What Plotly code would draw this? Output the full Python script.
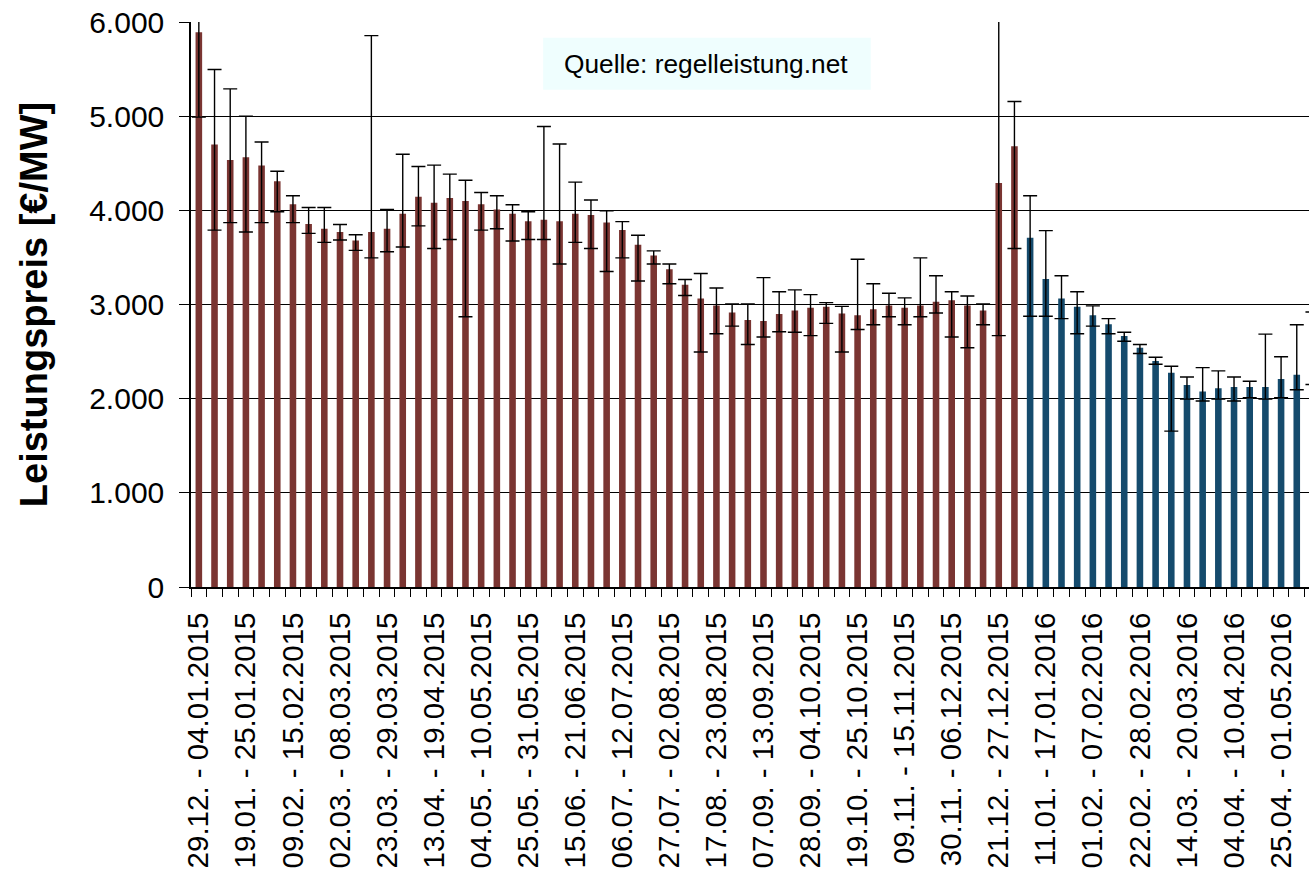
import plotly.graph_objects as go

# weekly capacity prices 2015 (red) and 2016 (blue), with min / max of the week
price_2015 = [5890, 4700, 4535, 4565, 4475, 4310, 4065, 3855, 3805, 3770,
              3680, 3770, 3805, 3965, 4145, 4080, 4130, 4100, 4065, 4010,
              3965, 3885, 3900, 3885, 3965, 3950, 3870, 3790, 3635, 3520,
              3375, 3210, 3065, 2990, 2915, 2835, 2825, 2900, 2935, 2965,
              2975, 2905, 2885, 2950, 2990, 2965, 2990, 3030, 3045, 2990,
              2935, 4290, 4680]
low_2015 = [4990, 3790, 3870, 3770, 3870, 3985, 3870, 3755, 3660, 3685,
            3575, 3495, 3560, 3610, 3835, 3595, 3690, 2870, 3790, 3805,
            3675, 3690, 3690, 3430, 3660, 3595, 3350, 3495, 3250, 3430,
            3220, 3095, 2495, 2690, 2770, 2575, 2655, 2710, 2705, 2670,
            2800, 2495, 2735, 2785, 2870, 2785, 2870, 2910, 2655, 2540,
            2785, 2670, 3595]
high_2015 = [6300, 5495, 5290, 5000, 4725, 4415, 4155, 4030, 4030, 3850,
             3740, 5855, 4010, 4595, 4465, 4480, 4385, 4320, 4190, 4155,
             4060, 3985, 4890, 4705, 4300, 4110, 3995, 3880, 3735, 3570,
             3430, 3265, 3330, 3175, 3005, 3005, 3285, 3135, 3155, 3105,
             3020, 2980, 3480, 3220, 3120, 3070, 3495, 3305, 3135, 3090,
             3005, 6500, 5155]

price_2016 = [3710, 3270, 3065, 2975, 2885, 2790, 2665, 2540, 2400, 2275,
              2145, 2075, 2110, 2125, 2125, 2125, 2210, 2255, 2300]
low_2016 = [2875, 2875, 2850, 2690, 2770, 2690, 2610, 2480, 2365, 1655,
            1995, 1975, 1995, 1975, 2010, 1995, 2010, 2095, 2150]
high_2016 = [4155, 3785, 3305, 3135, 2985, 2850, 2705, 2575, 2440, 2345,
             2230, 2330, 2295, 2230, 2185, 2685, 2445, 2785, 2920]

tick_labels = [
    "29.12. - 04.01.2015", "19.01. - 25.01.2015", "09.02. - 15.02.2015",
    "02.03. - 08.03.2015", "23.03. - 29.03.2015", "13.04. - 19.04.2015",
    "04.05. - 10.05.2015", "25.05. - 31.05.2015", "15.06. - 21.06.2015",
    "06.07. - 12.07.2015", "27.07. - 02.08.2015", "17.08. - 23.08.2015",
    "07.09. - 13.09.2015", "28.09. - 04.10.2015", "19.10. - 25.10.2015",
    "09.11. - 15.11.2015", "30.11. - 06.12.2015", "21.12. - 27.12.2015",
    "11.01. - 17.01.2016", "01.02. - 07.02.2016", "22.02. - 28.02.2016",
    "14.03. - 20.03.2016", "04.04. - 10.04.2016", "25.04. - 01.05.2016",
]
y_ticks = [0, 1000, 2000, 3000, 4000, 5000, 6000]

RED = "#7a3532"
BLUE = "#154b6d"
FONT = "Liberation Sans, Arial, sans-serif"

x_2015 = list(range(len(price_2015)))
x_2016 = list(range(len(price_2015), len(price_2015) + len(price_2016)))


def error_bars(values, lows, highs):
    return dict(
        type="data",
        symmetric=False,
        array=[h - v for v, h in zip(values, highs)],
        arrayminus=[v - lo for v, lo in zip(values, lows)],
        color="black",
        thickness=1.4,
        width=7,
    )


fig = go.Figure()
fig.add_trace(
    go.Bar(
        x=x_2015,
        y=price_2015,
        width=0.42,
        marker=dict(color=RED, line=dict(width=0)),
        error_y=error_bars(price_2015, low_2015, high_2015),
        name="2015",
    )
)
fig.add_trace(
    go.Bar(
        x=x_2016,
        y=price_2016,
        width=0.42,
        marker=dict(color=BLUE, line=dict(width=0)),
        error_y=error_bars(price_2016, low_2016, high_2016),
        name="2016",
    )
)

fig.update_layout(
    width=1309,
    height=879,
    margin=dict(l=191, r=0, t=22, b=292),
    paper_bgcolor="white",
    plot_bgcolor="white",
    showlegend=False,
    barmode="overlay",
    separators=",.",
    font=dict(family=FONT, size=28, color="black"),
    xaxis=dict(
        range=[-0.5, 70.78],
        automargin=False,
        tickmode="array",
        tickvals=[3 * i for i in range(len(tick_labels))],
        ticktext=tick_labels,
        tickangle=-90,
        ticks="",
        ticklabelstandoff=12,
        ticklabeloverflow="allow",
        showgrid=False,
        showline=True,
        linecolor="black",
        linewidth=1.5,
        zeroline=False,
        tickfont=dict(size=29.5),
        minor=dict(
            tickmode="linear",
            tick0=0.5,
            dtick=1,
            ticks="outside",
            ticklen=8,
            tickcolor="black",
            tickwidth=1,
            showgrid=False,
        ),
    ),
    yaxis=dict(
        range=[0, 6000],
        automargin=False,
        tickmode="array",
        tickvals=y_ticks,
        tickformat=",",
        ticks="outside",
        ticklen=10,
        tickcolor="black",
        ticklabelstandoff=9,
        ticklabeloverflow="allow",
        showgrid=True,
        gridcolor="black",
        gridwidth=1.2,
        showline=True,
        linecolor="black",
        linewidth=1.5,
        zeroline=False,
        tickfont=dict(size=30),
        title=dict(
            text="<b>Leistungspreis [€/MW]</b>",
            font=dict(size=38),
            standoff=30,
        ),
    ),
    shapes=[
        dict(
            type="rect",
            xref="paper",
            yref="paper",
            x0=0.315,
            x1=0.608,
            y0=0.88,
            y1=0.972,
            fillcolor="#effefe",
            line=dict(width=0),
            layer="above",
        )
    ],
    annotations=[
        dict(
            text="Quelle: regelleistung.net",
            xref="paper",
            yref="paper",
            x=0.4606,
            y=0.9257,
            xanchor="center",
            yanchor="middle",
            showarrow=False,
            font=dict(size=26.3, color="black"),
        )
    ],
)

# drop the default 8px page margin so the figure sits flush in the window
fig.write_html(
    "out.html",
    config={"displayModeBar": False},
    post_script="document.body.style.margin = '0';",
)
